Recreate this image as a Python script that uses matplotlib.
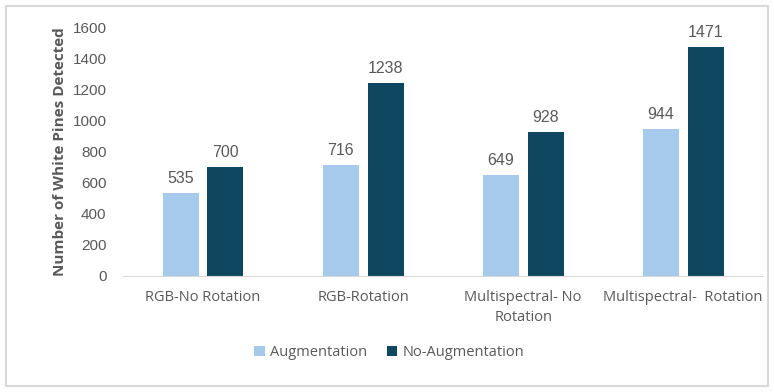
import numpy as np
import matplotlib.pyplot as plt
from matplotlib.patches import Rectangle

categories = ['RGB-No Rotation', 'RGB-Rotation', 'Multispectral- No\nRotation', 'Multispectral-  Rotation']
augmentation = [535, 716, 649, 944]
no_augmentation = [700, 1238, 928, 1471]

light = '#A6CAEC'
dark = '#0F4761'
grey = '#595959'

plt.rcParams['font.family'] = ['Liberation Sans', 'DejaVu Sans']

fig = plt.figure(figsize=(7.74, 3.92), dpi=100)
fig.patches.append(Rectangle((0.008, 0.015), 0.984, 0.97, transform=fig.transFigure,
                             fill=False, edgecolor='#D9D9D9', linewidth=1.5))
ax = fig.add_axes([0.159, 0.296, 0.827, 0.635])

x = np.arange(len(categories))
w = 0.225
off = 0.14
b1 = ax.bar(x - off, augmentation, w, color=light, label='Augmentation')
b2 = ax.bar(x + off, no_augmentation, w, color=dark, label='No-Augmentation')

for bars in (b1, b2):
    for b in bars:
        ax.annotate(f'{int(b.get_height())}', (b.get_x() + b.get_width() / 2, b.get_height()),
                    xytext=(0, 5), textcoords='offset points', ha='center', va='bottom',
                    fontsize=11.5, color=grey)

ax.set_xlim(-0.5, 3.5)
ax.set_ylim(0, 1600)
ax.set_yticks(range(0, 1601, 200))
ax.set_xticks(x)
ax.set_xticklabels(categories, fontsize=10.5, color=grey, family=['Open Sans', 'DejaVu Sans'],
                   linespacing=1.5)
ax.tick_params(axis='y', labelsize=11, labelcolor=grey, length=0, pad=12)
ax.tick_params(axis='x', length=0, pad=10)
for s in ['top', 'right', 'left']:
    ax.spines[s].set_visible(False)
ax.spines['bottom'].set_color('#D9D9D9')

ax.set_ylabel('Number of White Pines Detected', fontsize=11, fontweight='bold',
              color=grey, family=['Open Sans', 'DejaVu Sans'], labelpad=4)

fig.legend(handles=[b1, b2], loc='center', bbox_to_anchor=(0.503, 0.1), ncol=2, frameon=False,
           prop={'family': 'Open Sans', 'size': 10.5}, labelcolor=grey,
           handlelength=0.7, handleheight=0.7, columnspacing=1.3, handletextpad=0.4)

fig.savefig('out.png')
